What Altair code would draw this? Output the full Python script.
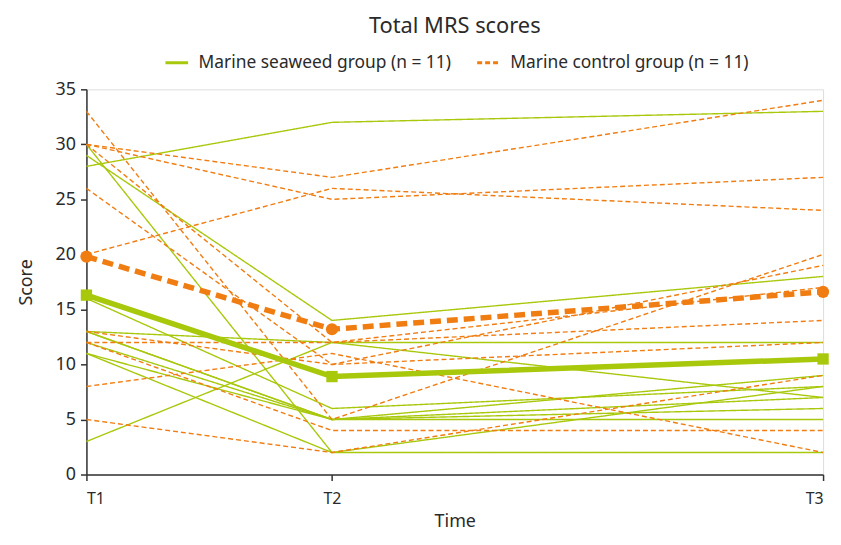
import altair as alt
import pandas as pd

# ---- data ----
time_labels = ["T1", "T2", "T3"]
time_pos = [0, 1, 3]  # relative spacing of the measurement times on the axis

seaweed_label = "Marine seaweed group (n = 11)"
control_label = "Marine control group (n = 11)"

seaweed_t1 = [28, 29, 30, 3, 16, 13, 13, 12, 11, 11, 13]
seaweed_t2 = [32, 14, 2, 12, 6, 12, 5, 5, 5, 2, 5]
seaweed_t3 = [33, 18, 2, 7, 8, 12, 9, 6, 5, 8, 7]

control_t1 = [30, 30, 20, 33, 26, 13, 12, 8, 5, 30, 12]
control_t2 = [27, 25, 26, 5, 10, 10, 4, 11, 2, 12, 12]
control_t3 = [34, 27, 24, 20, 19, 12, 4, 2, 9, 17, 14]

seaweed_mean = [16.3, 8.9, 10.5]
control_mean = [19.8, 13.2, 16.6]

GREEN = "#a8c80c"
ORANGE = "#f07d12"
TEXT = "#2a2a2a"

rows = []
for gname, cols, tag in [(seaweed_label, [seaweed_t1, seaweed_t2, seaweed_t3], "S"),
                         (control_label, [control_t1, control_t2, control_t3], "C")]:
    for i in range(len(cols[0])):
        for j in range(3):
            rows.append({"subject": f"{tag}{i}", "group": gname, "time": time_pos[j],
                         "label": time_labels[j], "score": cols[j][i]})
df = pd.DataFrame(rows)

mean_rows = []
for gname, vals in [(seaweed_label, seaweed_mean), (control_label, control_mean)]:
    for j in range(3):
        mean_rows.append({"group": gname, "time": time_pos[j], "score": vals[j]})
mdf = pd.DataFrame(mean_rows)

label_expr = " : ".join(
    [f"datum.value == {p} ? '{l}'" for p, l in zip(time_pos[:-1], time_labels[:-1])]
) + f" : '{time_labels[-1]}'"

x_enc = alt.X("time:Q",
              scale=alt.Scale(domain=[time_pos[0], time_pos[-1]], nice=False, zero=False),
              axis=alt.Axis(values=time_pos, labelExpr=label_expr, title="Time", grid=False,
                            labelFontSize=16, labelPadding=10, titleFontSize=18,
                            titleFontWeight="normal", titlePadding=6))
y_enc = alt.Y("score:Q",
              scale=alt.Scale(domain=[0, 35], nice=False),
              axis=alt.Axis(values=list(range(0, 36, 5)), title="Score", grid=False,
                            labelFontSize=18, labelPadding=5, titleFontSize=18,
                            titleFontWeight="normal", titlePadding=20))

legend = alt.Legend(title=None, orient="none", legendX=78, legendY=-40,
                    direction="horizontal", symbolType="stroke",
                    symbolStrokeWidth=3, symbolSize=520,
                    labelFontSize=17.5, labelColor=TEXT, labelLimit=0, labelOffset=9,
                    columnPadding=19)

thin = alt.Chart(df).mark_line(strokeWidth=1.4).encode(
    x=x_enc, y=y_enc,
    color=alt.Color("group:N",
                    scale=alt.Scale(domain=[seaweed_label, control_label], range=[GREEN, ORANGE]),
                    legend=legend),
    strokeDash=alt.StrokeDash("group:N",
                              scale=alt.Scale(domain=[seaweed_label, control_label],
                                              range=[[1, 0], [5, 3]]),
                              legend=legend),
    detail="subject:N",
)

green_mean = alt.Chart(mdf).transform_filter(
    alt.datum.group == seaweed_label
).mark_line(strokeWidth=5.5, color=GREEN).encode(x="time:Q", y="score:Q")

green_pts = alt.Chart(mdf).transform_filter(
    alt.datum.group == seaweed_label
).mark_point(filled=True, shape="square", size=130, color=GREEN, opacity=1).encode(
    x="time:Q", y="score:Q")

orange_mean = alt.Chart(mdf).transform_filter(
    alt.datum.group == control_label
).mark_line(strokeWidth=5.5, color=ORANGE, strokeDash=[11, 6]).encode(x="time:Q", y="score:Q")

orange_pts = alt.Chart(mdf).transform_filter(
    alt.datum.group == control_label
).mark_point(filled=True, shape="circle", size=150, color=ORANGE, opacity=1).encode(
    x="time:Q", y="score:Q")

chart = alt.layer(thin, green_mean, orange_mean, green_pts, orange_pts).properties(
    width=742, height=388,
    padding={"left": 79, "top": 80, "right": 10, "bottom": 59},
    autosize=alt.AutoSizeParams(type="none"),
    title=alt.TitleParams("Total MRS scores", fontSize=22, fontWeight="normal",
                          anchor="middle", frame="group", offset=12, color=TEXT),
).configure_view(stroke=None).configure(
    font="Noto Sans"
).configure_axis(
    domainColor="#333", domainWidth=1.5, tickColor="#333", tickWidth=1.5, tickSize=6,
    labelColor=TEXT, titleColor=TEXT, labelFont="Noto Sans", titleFont="Noto Sans"
).configure_legend(labelFont="Noto Sans").configure_title(font="Noto Sans")

chart.save("out.html", embed_options={"renderer": "svg", "actions": False})
